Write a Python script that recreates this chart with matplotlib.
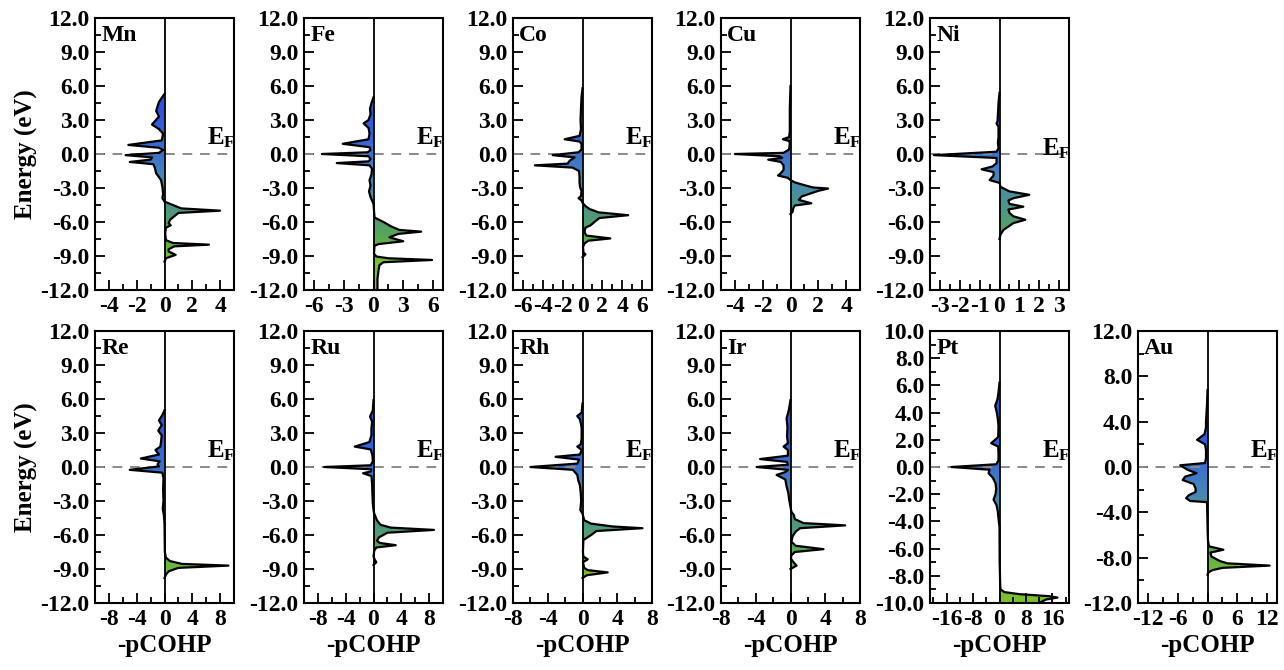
import numpy as np
import matplotlib
matplotlib.use('Agg')
import matplotlib.pyplot as plt
from matplotlib.colors import LinearSegmentedColormap
from matplotlib.patches import Polygon
from matplotlib.ticker import MultipleLocator, FormatStrFormatter

# -pCOHP curves (energy in eV, value)
mn_e = [5.3, 4.6, 3.8, 3.3, 2.6, 2.2, 1.8, 1.2, 0.8, 0.55, 0.35, 0.1, -0.1, -0.3, -0.5, -0.7, -0.9, -1.2,
        -1.7, -2.3, -2.9, -3.5, -3.9, -4.2, -4.5, -4.8, -5.0, -5.2, -5.5, -5.8, -6.1, -6.3, -6.5, -7.0,
        -7.6, -7.85, -8.0, -8.15, -8.4, -8.6, -8.9, -9.2, -9.5]
mn_v = [0, -0.4, -0.6, -0.4, -0.9, -0.4, -0.1, -0.2, -2.6, -0.4, -0.1, -0.4, -2.8, -0.9, -1.0, -2.5, -0.8, -0.7,
        -0.6, -0.25, -0.15, -0.1, -0.15, 0.0, 0.6, 1.2, 4.0, 1.0, 0.7, 0.4, 0.3, 0.45, 0.1, 0.05,
        0.1, 0.6, 3.2, 0.7, 0.3, 0.3, 0.8, 0.1, 0.0]

fe_e = [5.0, 4.5, 4.0, 3.5, 3.0, 2.7, 2.3, 1.8, 1.3, 0.9, 0.6, 0.35, 0.15, 0.0, -0.2, -0.45, -0.65, -0.8,
        -1.0, -1.3, -1.8, -2.3, -2.8, -3.3, -3.8, -4.1, -4.4, -5.0, -5.6, -6.0, -6.4, -6.7, -6.85, -7.05,
        -7.35, -7.7, -7.95, -8.1, -8.8, -9.05, -9.2, -9.35, -9.55, -9.8, -10.3, -11.0, -12.0]
fe_v = [0, -0.2, -0.35, -0.3, -0.5, -1.0, -0.5, -0.4, -0.5, -3.1, -0.4, -0.3, -0.6, -5.2, -0.5, -0.3, -0.5, -3.7,
        -0.4, -0.15, -0.2, -0.4, -0.3, -0.45, -0.3, -0.15, 0.0, 0.05, 0.1, 1.0, 1.8, 2.6, 4.8, 2.5,
        1.6, 3.0, 0.5, 0.1, 0.05, 0.3, 1.5, 5.9, 1.0, 0.6, 0.5, 0.4, 0.4]

co_e = [5.8, 5.0, 4.0, 3.0, 2.2, 1.6, 1.3, 1.1, 0.9, 0.4, 0.15, -0.1, -0.3, -0.6, -0.85, -1.0, -1.2, -1.5,
        -2.0, -2.5, -2.9, -3.3, -3.7, -3.9, -4.1, -4.3, -4.6, -4.85, -5.15, -5.4, -5.65, -6.0, -6.3, -6.5,
        -6.9, -7.2, -7.45, -7.65, -7.9, -8.2, -8.7, -8.85, -9.1]
co_v = [0, -0.1, -0.15, -0.2, -0.15, -0.3, -1.8, -0.3, -0.1, -0.1, -0.4, -3.0, -0.8, -1.3, -1.5, -4.8, -1.0, -0.35,
        -0.3, -0.3, -0.25, -0.1, -0.15, -0.4, -0.1, 0.0, 0.3, 0.7, 1.6, 4.6, 1.7, 1.2, 0.8, 0.3,
        0.2, 0.4, 2.8, 0.6, 0.2, 0.05, 0.1, 0.3, 0.0]

cu_e = [6.0, 4.0, 2.0, 1.5, 1.3, 1.15, 0.95, 0.4, 0.1, 0.0, -0.2, -0.35, -0.5, -0.7, -1.0, -1.4, -1.7, -1.9,
        -2.1, -2.3, -2.5, -2.75, -2.95, -3.05, -3.25, -3.5, -3.75, -4.05, -4.35, -4.55, -4.8, -5.1, -5.3]
cu_v = [0, -0.05, -0.05, -0.1, -0.55, -0.1, -0.05, -0.1, -0.5, -4.0, -0.8, -0.6, -1.6, -0.7, -0.5, -0.5, -0.7, -0.9,
        -0.2, 0.0, 0.3, 1.0, 1.6, 2.7, 2.0, 1.4, 0.8, 0.6, 1.5, 0.3, 0.2, 0.15, 0.0]

ni_e = [5.4, 4.5, 3.5, 2.9, 2.7, 2.4, 1.5, 1.0, 0.5, 0.2, -0.1, -0.35, -0.8, -1.1, -1.35, -1.6, -1.9, -2.3,
        -2.55, -2.9, -3.3, -3.6, -3.9, -4.1, -4.4, -4.65, -4.9, -5.2, -5.5, -5.8, -6.1, -6.4, -6.7, -7.1, -7.5]
ni_v = [0, -0.05, -0.08, -0.1, -0.15, -0.05, -0.05, -0.08, -0.05, -0.15, -3.3, -0.15, -0.15, -0.35, -0.9, -0.3, -0.3, -0.5,
        0.0, 0.05, 0.5, 1.5, 0.7, 0.45, 0.5, 1.2, 0.45, 0.5, 0.7, 1.3, 0.7, 0.45, 0.2, 0.05, 0.0]

re_e = [5.0, 4.6, 4.1, 3.7, 3.2, 2.8, 2.2, 1.8, 1.5, 1.1, 0.75, 0.5, 0.25, 0.05, -0.25, -0.5, -1.0, -2.0,
        -3.0, -3.7, -4.2, -5.0, -7.5, -8.0, -8.3, -8.55, -8.7, -8.9, -9.2, -9.5, -9.8]
re_v = [0, -0.3, -0.8, -0.4, -0.9, -0.4, -0.5, -0.6, -1.3, -0.8, -3.4, -0.7, -1.0, -0.8, -5.0, -0.3, -0.15, -0.2,
        -0.15, -0.25, -0.1, 0.0, 0.05, 0.2, 0.8, 2.5, 9.2, 2.0, 0.6, 0.2, 0.0]

ru_e = [5.9, 5.0, 4.45, 4.0, 3.4, 2.8, 2.2, 1.8, 1.55, 1.0, 0.5, 0.15, 0.0, -0.2, -0.4, -0.55, -0.8, -1.5,
        -2.5, -3.2, -3.8, -4.1, -4.7, -5.1, -5.35, -5.55, -5.8, -6.2, -6.5, -6.7, -6.9, -7.1, -7.4, -7.9,
        -8.2, -8.4, -8.65]
ru_v = [0, -0.1, -0.5, -0.2, -0.3, -0.3, -0.6, -2.7, -0.4, -0.15, -0.1, -0.4, -7.1, -0.3, -0.4, -1.5, -0.3, -0.2,
        -0.15, -0.1, 0.0, 0.1, 0.5, 1.0, 2.5, 8.7, 2.0, 0.8, 0.5, 0.9, 3.2, 0.4, 0.1, 0.0,
        0.2, 0.4, 0.0]

rh_e = [5.6, 4.8, 4.5, 4.2, 3.5, 2.5, 2.0, 1.8, 1.5, 1.1, 0.9, 0.65, 0.3, 0.0, -0.25, -0.7, -1.15, -1.6,
        -2.3, -3.0, -3.8, -4.1, -4.7, -5.0, -5.25, -5.4, -5.65, -6.0, -6.2, -6.45, -7.5, -7.9, -8.15, -8.4,
        -8.9, -9.1, -9.3, -9.55, -9.8]
rh_v = [0, -0.1, -0.6, -0.3, -0.1, -0.1, -0.2, -0.6, -0.1, -0.3, -3.1, -0.4, -0.6, -6.0, -1.1, -0.6, -0.5, -0.3,
        -0.2, -0.15, -0.25, 0.0, 0.2, 1.0, 3.5, 6.9, 1.6, 1.0, 0.6, 0.1, 0.05, 0.1, 0.6, 0.05,
        0.2, 0.6, 2.9, 0.5, 0.0]

ir_e = [5.9, 5.0, 4.3, 3.5, 2.7, 2.1, 1.8, 1.5, 1.0, 0.7, 0.45, 0.2, 0.0, -0.25, -0.45, -0.7, -1.1, -1.7,
        -2.3, -2.9, -3.5, -3.95, -4.25, -4.6, -4.95, -5.15, -5.4, -5.7, -6.1, -6.6, -6.95, -7.25, -7.5, -7.8,
        -8.1, -8.45, -8.7, -9.0]
ir_v = [0, -0.2, -0.45, -0.35, -0.4, -0.3, -0.8, -0.3, -0.3, -3.5, -0.4, -0.3, -3.9, -0.3, -0.6, -1.6, -0.6, -0.45,
        -0.25, -0.15, 0.0, 0.1, 0.4, 0.5, 1.5, 6.3, 1.1, 0.6, 0.25, 0.1, 0.6, 3.8, 0.5, 0.1,
        0.05, 0.4, 0.7, 0.0]

pt_e = [6.2, 5.5, 5.0, 4.5, 4.0, 3.5, 3.0, 2.2, 1.75, 1.5, 1.0, 0.5, 0.2, 0.0, -0.2, -0.45, -0.8, -1.2,
        -1.6, -2.0, -2.4, -2.8, -3.3, -3.8, -4.4, -7.0, -8.0, -8.6, -9.0, -9.2, -9.35, -9.5, -9.6, -9.75, -10.0]
pt_v = [0, -0.3, -0.6, -1.3, -0.8, -0.5, -0.3, -0.4, -2.5, -0.4, -0.3, -0.3, -1.0, -14.5, -3.0, -3.3, -2.0, -1.2,
        -1.0, -1.2, -1.8, -0.9, -0.5, -0.3, 0.0, 0.05, 0.15, 0.2, 0.3, 1.5, 6.0, 15.0, 17.5, 14.0, 12.0]

au_e = [6.8, 5.5, 4.8, 4.0, 3.5, 2.9, 2.4, 2.0, 1.5, 0.8, 0.35, 0.15, -0.25, -0.55, -0.85, -1.15, -1.5, -1.9,
        -2.2, -2.5, -2.75, -3.0, -3.1, -4.0, -6.0, -6.5, -7.0, -7.3, -7.55, -7.9, -8.3, -8.5, -8.7, -8.9,
        -9.1, -9.3, -9.5]
au_v = [0, -0.1, -0.2, -0.3, -0.3, -0.6, -2.1, -0.5, -0.3, -0.3, -0.5, -5.5, -4.0, -2.2, -4.5, -5.0, -2.8, -2.4,
        -2.4, -3.8, -4.3, -3.5, -0.1, -0.05, 0.05, 0.1, 0.3, 3.2, 0.6, 0.8, 2.5, 4.0, 12.5, 3.0,
        1.0, 0.2, 0.0]

# label, energies, values, x half-range, x major step, y half-range, y major step
top_row = [('Mn', mn_e, mn_v, 5, 2, 12, 3),
           ('Fe', fe_e, fe_v, 7, 3, 12, 3),
           ('Co', co_e, co_v, 7, 2, 12, 3),
           ('Cu', cu_e, cu_v, 5, 2, 12, 3),
           ('Ni', ni_e, ni_v, 3.5, 1, 12, 3)]
bottom_row = [('Re', re_e, re_v, 10, 4, 12, 3),
              ('Ru', ru_e, ru_v, 10, 4, 12, 3),
              ('Rh', rh_e, rh_v, 8, 4, 12, 3),
              ('Ir', ir_e, ir_v, 8, 4, 12, 3),
              ('Pt', pt_e, pt_v, 21, 8, 10, 2),
              ('Au', au_e, au_v, 14, 6, 12, 4)]

plt.rcParams['font.family'] = 'Liberation Serif'
plt.rcParams['font.weight'] = 'bold'
plt.rcParams['axes.unicode_minus'] = False
plt.rcParams['mathtext.fontset'] = 'custom'
plt.rcParams['mathtext.rm'] = 'Liberation Serif:bold'
plt.rcParams['mathtext.bf'] = 'Liberation Serif:bold'
plt.rcParams['mathtext.it'] = 'Liberation Serif:bold'

# colour by energy (blue near E_F, green deep below)
stops = [(-12, '#86cc2a'), (-9.5, '#78c030'), (-8, '#62ae48'), (-7, '#58a45c'), (-5.5, '#4f9a7a'),
         (-4.3, '#4c9490'), (-3, '#4a8ca8'), (-1.5, '#4580c0'), (0, '#3c70cc'), (2, '#3560d8'),
         (5, '#2e4ee2'), (12, '#2a40e8')]
cmap = LinearSegmentedColormap.from_list('en', [((s + 12) / 24, c) for s, c in stops])

fig = plt.figure(figsize=(12.84, 6.70), dpi=100)
W, H = 1284, 670
lefts = [95, 304, 513, 721, 930, 1138]
aw, ah = 139, 272


def panel(ax, name, e, v, xr, xs, yr, ys, first_col, bottom):
    ax.set_xlim(-xr, xr)
    ax.set_ylim(-yr, yr)
    grad = np.linspace(yr, -yr, 300).reshape(-1, 1)
    im = ax.imshow(grad, cmap=cmap, vmin=-12, vmax=12, aspect='auto',
                   extent=[-xr, xr, -yr, yr], origin='upper', zorder=1)
    verts = [(0, e[0])] + list(zip(v, e)) + [(0, e[-1])]
    poly = Polygon(verts, closed=True, facecolor='none', edgecolor='none')
    ax.add_patch(poly)
    im.set_clip_path(poly)
    ax.plot(v, e, color='black', lw=1.6, zorder=3)
    ax.axvline(0, color='black', lw=1.3, zorder=4)
    ax.axhline(0, color='#8a8a8a', lw=1.4, ls=(0, (5, 4)), zorder=2)
    ax.set_xlim(-xr, xr)
    ax.set_ylim(-yr, yr)

    ax.xaxis.set_major_locator(MultipleLocator(xs))
    ax.xaxis.set_minor_locator(MultipleLocator(xs / 2))
    ax.yaxis.set_major_locator(MultipleLocator(ys))
    ax.yaxis.set_minor_locator(MultipleLocator(ys / 2))
    ax.yaxis.set_major_formatter(FormatStrFormatter('%.1f'))
    ax.xaxis.set_major_formatter(FormatStrFormatter('%g'))
    ax.tick_params(which='both', direction='in', top=False, right=False, width=1.3, labelsize=17)
    ax.tick_params(which='major', length=7, pad=4)
    ax.tick_params(which='minor', length=4)
    for s in ax.spines.values():
        s.set_linewidth(1.5)

    ax.text(0.045, 0.935, name, transform=ax.transAxes, fontsize=17, fontweight='bold',
            ha='left', va='center', zorder=5)
    ey = 0.52 if name == 'Ni' else 0.56
    ax.text(1.01, ey, r'$\mathbf{E_F}$', transform=ax.transAxes, fontsize=18,
            ha='right', va='center', zorder=5)
    if first_col:
        ax.set_ylabel('Energy (eV)', fontsize=18, fontweight='bold', labelpad=2)
    if bottom:
        ax.set_xlabel('-pCOHP', fontsize=18, fontweight='bold', labelpad=3)


for i, p in enumerate(top_row):
    ax = fig.add_axes([lefts[i] / W, (H - 290) / H, aw / W, ah / H])
    panel(ax, *p, first_col=(i == 0), bottom=False)

for i, p in enumerate(bottom_row):
    ax = fig.add_axes([lefts[i] / W, (H - 603) / H, aw / W, ah / H])
    panel(ax, *p, first_col=(i == 0), bottom=True)

fig.savefig('out.png', dpi=100)
